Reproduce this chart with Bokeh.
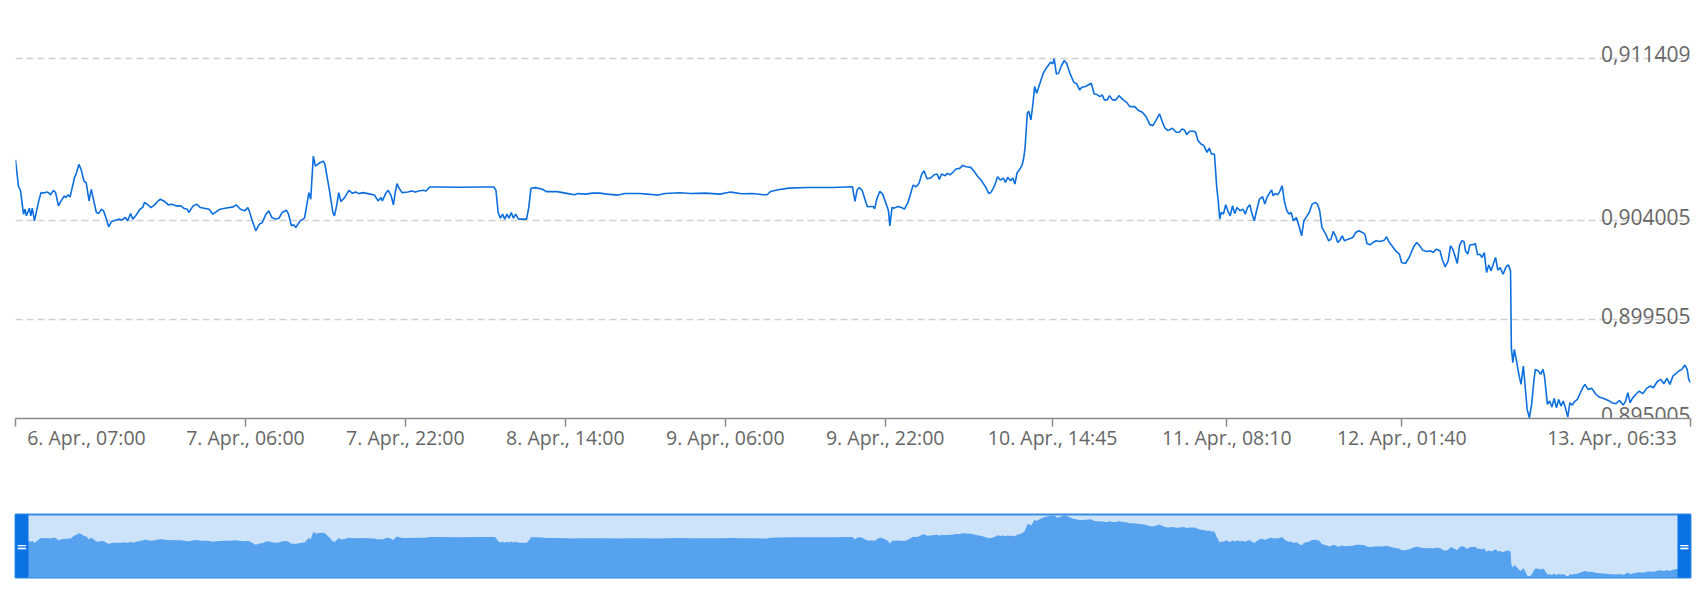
from bokeh.plotting import figure
from bokeh.layouts import column
from bokeh.models import Range1d, FixedTicker, LinearAxis, ColumnDataSource, Grid
from bokeh.core.properties import value
from bokeh.embed import file_html
from bokeh.resources import INLINE

# hours since 6 Apr 07:00
hours = [
    0, 0.29, 0.51, 0.80, 0.95, 1.09, 1.39, 1.53, 1.68, 1.90, 2.11, 2.33, 2.55, 2.84, 3.13, 3.35, 3.50, 3.79,
    4.01, 4.30, 4.52, 4.88, 5.03, 5.25, 5.46, 5.61, 5.90, 6.05, 6.34, 6.56, 6.85, 7.07, 7.36, 7.58, 7.87,
    8.09, 8.30, 8.60, 8.81, 9.10, 9.32, 9.61, 9.98, 10.42, 10.63, 10.99, 11.22, 11.51, 11.73, 12.02, 12.38,
    12.75, 12.89, 13.18, 13.55, 13.91, 14.27, 14.49, 14.93, 15.29, 15.66, 16.10, 16.53, 16.82, 17.19, 17.33,
    17.77, 18.14, 18.50, 18.86, 19.37, 19.74, 20.10, 20.47, 20.97, 21.78, 22.07, 22.50, 22.94, 23.23, 23.38,
    23.67, 24.03, 24.40, 24.69, 25.05, 25.34, 25.64, 26.00, 26.36, 26.66, 27.09, 27.31, 27.60, 27.82, 28.04,
    28.47, 28.91, 29.35, 29.53, 29.79, 30.00, 30.44, 30.80, 30.95, 31.39, 31.75, 31.90, 32.12, 32.33, 32.55,
    32.92, 33.35, 33.72, 34.01, 34.37, 34.74, 35.25, 35.90, 36.27, 36.56, 36.70, 37.07, 37.29, 37.58, 37.80,
    38.01, 38.16, 38.38, 38.67, 39.25, 39.61, 39.98, 40.34, 40.78, 41.07, 41.44, 42.17, 44.35, 46.53, 47.84,
    48.06, 48.28, 48.50, 48.72, 48.94, 49.16, 49.37, 49.59, 49.81, 50.03, 50.32, 51.12, 51.34, 51.56, 52.00,
    52.72, 53.09, 54.18, 55.27,
    55.90, 56.27, 57.00, 57.72, 58.45, 59.18, 60.27, 60.99, 62.45, 63.18, 63.90, 64.27, 64.99, 66.45, 67.54,
    69.00, 70.45, 71.54, 72.63, 73.72, 74.81, 75.18, 75.54, 76.27, 77.36, 79.17, 81.72, 83.72, 83.97, 84.19,
    84.41, 84.70, 85.21, 85.57, 85.79, 85.94, 86.16, 86.45, 86.74, 87.10, 87.32, 87.46, 87.68, 87.90, 88.26,
    88.63, 88.92, 89.28, 89.57, 89.79, 90.08, 90.37, 90.66, 90.88, 91.17, 91.54, 91.90, 92.19, 92.41, 92.63,
    92.99, 93.21, 93.50, 93.79, 94.08, 94.45, 94.74, 95.10, 95.54, 95.90, 96.19, 96.63, 97.06, 97.35, 97.57,
    97.86, 98.08, 98.23, 98.52, 98.81, 99.03, 99.25, 99.54, 99.75, 99.97, 100.19, 100.48, 100.70, 100.85,
    100.99, 101.21, 101.36, 101.57, 101.79, 101.94, 102.15, 102.45, 102.81, 103.17, 103.54, 103.75, 103.90,
    104.12, 104.34, 104.63, 104.92, 105.14, 105.50, 105.86, 106.15, 106.44, 106.66, 107.03, 107.61, 107.90,
    108.19, 108.48, 108.70, 108.92, 109.21, 109.43, 109.72, 110.08, 110.37, 110.81, 111.17, 111.46,
    111.96, 112.34, 112.72, 113.09, 113.47, 113.77, 114.07, 114.44, 114.67, 114.97, 115.27, 115.72, 116.10,
    116.40, 116.70, 116.93, 117.15, 117.45, 117.83, 118.05, 118.28, 118.58, 118.88, 119.18, 119.41, 119.63,
    119.93, 120.16, 120.31, 120.46, 120.61, 120.83, 121.06, 121.29, 121.51, 121.74, 121.96, 122.19, 122.49,
    122.79, 123.02, 123.24, 123.47, 123.69, 123.92, 124.14, 124.44, 124.74, 124.97, 125.19, 125.42, 125.65,
    125.80, 126.02, 126.25, 126.47, 126.70, 126.92, 127.15, 127.38, 127.60, 127.83, 128.13, 128.43, 128.65,
    128.88, 129.10, 129.41, 129.71, 130.01, 130.23, 130.46, 130.68, 131.06, 131.36, 131.59, 131.81, 132.04,
    132.26, 132.49, 132.71, 132.94, 133.31, 133.77, 134.07, 134.37, 134.74, 134.97, 135.19, 135.49, 135.80,
    136.10, 136.47, 136.92, 137.15, 137.37, 137.68, 138.05, 138.43, 138.65, 139.03, 139.40, 139.86, 140.16,
    140.46, 140.76, 141.21, 141.51, 141.81, 142.11, 142.49, 142.71, 143.01, 143.31, 143.54, 143.77, 143.99,
    144.22, 144.44, 144.67, 144.89, 145.04, 145.27, 145.49, 145.79, 146.02, 146.25, 146.47, 146.70, 146.92,
    147.15, 147.37, 147.60, 147.82, 148.05, 148.28, 148.50, 148.80, 149.10, 149.33, 149.55, 149.63, 149.78,
    149.93, 150.15, 150.38, 150.60, 150.83, 150.98, 151.21, 151.43, 151.66, 151.88, 152.03, 152.33, 152.56,
    152.79, 152.94, 153.24, 153.46, 153.69, 153.91, 154.14, 154.37, 154.59, 154.82, 155.04, 155.27, 155.49,
    155.72, 155.94, 156.24, 156.54, 156.77, 156.99, 157.30, 157.67, 158.05, 158.42, 158.87, 159.33, 159.70,
    160.08, 160.45, 160.83, 161.06, 161.28, 161.51, 161.73, 162.03, 162.41, 162.78, 163.16, 163.54, 163.84,
    164.21, 164.59, 164.89, 165.19, 165.49, 165.79, 166.09, 166.39, 166.69, 166.99, 167.22, 167.37, 167.55,
]

rate = [
    0.906786, 0.905591, 0.905364, 0.904307, 0.904534, 0.904232, 0.904579, 0.904232, 0.904579, 0.904005,
    0.904458, 0.904911, 0.905289, 0.905273, 0.905319, 0.905273, 0.905183, 0.905394, 0.905289, 0.904685,
    0.904881, 0.905138, 0.905062, 0.905183, 0.905092, 0.905394, 0.905968, 0.906119, 0.906572, 0.906346,
    0.905817, 0.905742, 0.904911, 0.905440, 0.904836, 0.904383, 0.904337, 0.904534, 0.904458, 0.904081,
    0.903733, 0.903975, 0.904035, 0.904081, 0.904035, 0.904156, 0.904005, 0.904337, 0.904081, 0.904232,
    0.904488, 0.904639, 0.904836, 0.904760, 0.904609, 0.904730, 0.904911, 0.904987, 0.904881, 0.904730,
    0.904760, 0.904685, 0.904685, 0.904579, 0.904534, 0.904383, 0.904685, 0.904760, 0.904609, 0.904579,
    0.904534, 0.904307, 0.904428, 0.904534, 0.904579, 0.904639, 0.904730, 0.904534, 0.904458, 0.904609,
    0.904458, 0.904035, 0.903552, 0.903854, 0.903930, 0.904307, 0.904458, 0.904156, 0.904081, 0.904126,
    0.904383, 0.904488, 0.904307, 0.903779, 0.903824, 0.903703, 0.904005, 0.904126, 0.905289, 0.904987,
    0.906950, 0.906497, 0.906648, 0.906723, 0.906572, 0.905440, 0.904383, 0.904232, 0.904685, 0.905289,
    0.904881, 0.905062, 0.905394, 0.905258, 0.905319, 0.905243, 0.905289, 0.905243, 0.905183, 0.904911,
    0.905062, 0.904911, 0.905289, 0.905394, 0.905138, 0.904730, 0.905364, 0.905696, 0.905485, 0.905289,
    0.905319, 0.905364, 0.905319, 0.905364, 0.905394, 0.905364, 0.905545, 0.905545, 0.905530, 0.905545,
    0.905545, 0.905394, 0.904383, 0.904126, 0.904307, 0.904081, 0.904307, 0.904126, 0.904383, 0.904126,
    0.904307, 0.904081, 0.904081, 0.904609, 0.905485, 0.905515, 0.905440, 0.905334, 0.905334, 0.905243,
    0.905191, 0.905252, 0.905221, 0.905267, 0.905267, 0.905221, 0.905176, 0.905252, 0.905252, 0.905221,
    0.905191, 0.905176, 0.905252, 0.905282, 0.905252, 0.905267, 0.905221, 0.905313, 0.905237, 0.905252,
    0.905191, 0.905191, 0.905343, 0.905419, 0.905495, 0.905525, 0.905525, 0.905556, 0.904887, 0.905404,
    0.905525, 0.905373, 0.904644, 0.904659, 0.904659, 0.904552, 0.904993, 0.905343, 0.905221, 0.904765,
    0.904461, 0.903777, 0.904613, 0.904583, 0.904659, 0.904613, 0.904537, 0.904841, 0.905297, 0.905632,
    0.905556, 0.905708, 0.906134, 0.906286, 0.905921, 0.905951, 0.906103, 0.906134, 0.905890, 0.906134,
    0.906058, 0.906164, 0.906103, 0.906225, 0.906362, 0.906392, 0.906529, 0.906468, 0.906438, 0.906255,
    0.906058, 0.905829, 0.905525, 0.905252, 0.905297, 0.905525, 0.905799, 0.906012, 0.905860, 0.905951,
    0.905753, 0.905982, 0.905829, 0.905951, 0.905677, 0.906194, 0.906362, 0.906559, 0.906863, 0.907350,
    0.908901, 0.908992, 0.908596, 0.909402, 0.910117, 0.909813, 0.910238, 0.910725, 0.910999, 0.911227,
    0.911151, 0.911379, 0.910694, 0.910725, 0.911075, 0.911303, 0.911181, 0.910694, 0.910314, 0.910238,
    0.909965, 0.910086, 0.910117, 0.910269, 0.909782, 0.909752, 0.909661, 0.909737, 0.909509, 0.909509,
    0.909706, 0.909509, 0.909509, 0.909706, 0.909509, 0.909387, 0.909205,
    0.909205, 0.909023, 0.908947, 0.908749, 0.908384, 0.908339, 0.908567, 0.908871, 0.908567, 0.908232,
    0.908111, 0.908217, 0.908035, 0.908035, 0.908187, 0.908141, 0.907928, 0.908080, 0.908080, 0.908035,
    0.907655, 0.907503, 0.907427, 0.907123, 0.907320, 0.907047, 0.907047, 0.905527, 0.904919, 0.904083,
    0.904387, 0.904311, 0.904736, 0.904432, 0.904235, 0.904691, 0.904341, 0.904615, 0.904463, 0.904539,
    0.904311, 0.904615, 0.904736, 0.904311, 0.904007, 0.904463, 0.904995, 0.905101, 0.904767, 0.905071,
    0.905253, 0.905405, 0.905147, 0.905253, 0.905192, 0.905344, 0.905603, 0.904919, 0.904493, 0.904311,
    0.904387, 0.904007, 0.904159, 0.903703, 0.903323, 0.904007, 0.904159, 0.904387, 0.904767, 0.904843,
    0.904767, 0.904463, 0.903703, 0.903399, 0.903095, 0.903171, 0.903520, 0.903323, 0.903019, 0.903125,
    0.903323, 0.903095, 0.903171, 0.903247, 0.903475, 0.903551, 0.903475, 0.903399, 0.902973, 0.902912,
    0.903019, 0.903095, 0.903064, 0.903125, 0.903277, 0.903064, 0.902867, 0.902639, 0.902487, 0.902107,
    0.902061, 0.902335, 0.902821, 0.903019, 0.902867, 0.902669, 0.902608, 0.902639, 0.902563, 0.902715,
    0.902639, 0.902259, 0.901909, 0.902183, 0.902867, 0.902715, 0.902411, 0.902061, 0.902867, 0.903095,
    0.903064, 0.902639, 0.902487, 0.902912, 0.902912, 0.902973, 0.902456, 0.902487, 0.902335, 0.902563,
    0.901651, 0.902000, 0.901727, 0.902031, 0.902335, 0.901757, 0.901879, 0.901575, 0.901909, 0.902000,
    0.901727, 0.898231, 0.897547, 0.898155, 0.897623, 0.897015, 0.896559, 0.897395, 0.896635, 0.895419,
    0.895039, 0.895647, 0.896711, 0.897243, 0.897167, 0.897015, 0.897243, 0.896939, 0.895647, 0.895799,
    0.895525, 0.895920, 0.895495, 0.895875, 0.895571, 0.895799, 0.895495, 0.895069, 0.895723, 0.895616,
    0.895768, 0.895875, 0.896179, 0.896407, 0.896559, 0.896331, 0.896376, 0.896133, 0.895981, 0.895920,
    0.895829, 0.895723, 0.895677, 0.895829, 0.895616, 0.895799, 0.896179, 0.895723, 0.895920, 0.896072,
    0.896255, 0.896133, 0.896376, 0.896483, 0.896407, 0.896680, 0.896787, 0.896589, 0.896832, 0.896559,
    0.896939, 0.897045, 0.897167, 0.897243, 0.897440, 0.897243, 0.896787, 0.896635,
]

# x ticks (hours since 6 Apr 07:00) and their labels
x_tick_hours = [0, 23, 39, 55, 71, 87, 103.75, 121.1667, 138.6667, 167.55]
x_tick_labels = ["6. Apr., 07:00", "7. Apr., 06:00", "7. Apr., 22:00", "8. Apr., 14:00",
                 "9. Apr., 06:00", "9. Apr., 22:00", "10. Apr., 14:45", "11. Apr., 08:10",
                 "12. Apr., 01:40", "13. Apr., 06:33"]
y_ticks = [0.895005, 0.899505, 0.904005, 0.911409]
y_tick_labels = ["0,895005", "0,899505", "0,904005", "0,911409"]

LINE = "#0d6fde"
HANDLE = "#0b72e4"
MASK = "#cce3fa"
NAVFILL = "#56a2ee"
AXIS = "#8a8a8a"
LABEL = "#666666"
FONT = "Open Sans"

x0, x1 = x_tick_hours[0], x_tick_hours[-1]
ymin, ymax = y_ticks[0], y_ticks[-1]
span = ymax - ymin

p = figure(width=1692, height=500, title=None,
           x_range=Range1d(x0, x1), y_range=Range1d(ymin, ymax + span * 0.1046),
           output_backend="svg", toolbar_location=None,
           x_axis_location=None, y_axis_location=None,
           min_border_left=15, min_border_right=2, min_border_top=20, min_border_bottom=82)
p.grid.visible = False
p.outline_line_color = None
p.background_fill_color = "white"
p.border_fill_color = "white"

p.add_layout(Grid(dimension=1, ticker=FixedTicker(ticks=y_ticks),
                  grid_line_color="#d0d0d0", grid_line_width=1.4, grid_line_dash="7 4"))

# axis with line + tick marks
ax_ticks = LinearAxis(ticker=FixedTicker(ticks=x_tick_hours),
                      axis_line_color=AXIS, axis_line_width=1.5,
                      major_tick_line_color=AXIS, major_tick_line_width=1.5,
                      major_tick_out=8, major_tick_in=0, minor_tick_out=0, minor_tick_in=0,
                      major_label_text_font_size="1px", major_label_text_color=None,
                      major_label_standoff=0)
# axis carrying the labels (first / last justified inside the plot)
label_pos = [x_tick_hours[0] + 7.1] + x_tick_hours[1:-1] + [x_tick_hours[-1] - 7.85]
ax_labels = LinearAxis(ticker=FixedTicker(ticks=label_pos),
                       axis_line_color=None, major_tick_line_color=None,
                       major_tick_out=0, major_tick_in=0, minor_tick_out=0, minor_tick_in=0,
                       major_label_standoff=-3,
                       major_label_overrides={pos: lab for pos, lab in zip(label_pos, x_tick_labels)},
                       major_label_text_font=FONT, major_label_text_font_size="19.5px",
                       major_label_text_color=LABEL)
p.add_layout(ax_ticks, "below")
p.add_layout(ax_labels, "below")

ysrc = ColumnDataSource(dict(x=[x1] * len(y_ticks), y=y_ticks, text=y_tick_labels))
p.text(x="x", y="y", text="text", source=ysrc, text_align="right", text_baseline="alphabetic",
       y_offset=-4, text_font=value(FONT), text_font_size="21px", text_color=LABEL)

p.line(hours, rate, line_color=LINE, line_width=1.6)

# navigator
nav_lo = ymin - span * 0.008
nav_hi = ymax + span * 0.0064
nav = figure(width=1692, height=97, title=None,
             x_range=Range1d(x0, x1), y_range=Range1d(nav_lo, nav_hi),
             output_backend="svg", toolbar_location=None,
             x_axis_location=None, y_axis_location=None,
             min_border_left=14, min_border_right=2, min_border_top=14, min_border_bottom=20)
nav.grid.visible = False
nav.background_fill_color = MASK
nav.border_fill_color = "white"
nav.outline_line_color = "#3a8de0"
nav.outline_line_width = 2

nav.varea(x=hours, y1=[nav_lo] * len(hours), y2=rate, fill_color=NAVFILL)

hw = 1.25  # handle width in hours (~12 px)
nav.quad(left=[x0, x1 - hw], right=[x0 + hw, x1], bottom=[nav_lo] * 2, top=[nav_hi] * 2,
         fill_color=HANDLE, line_color=HANDLE)
mid = (nav_lo + nav_hi) / 2
nav.text(x=[x0 + hw / 2, x1 - hw / 2], y=[mid, mid], text=["=", "="], text_align="center",
         text_baseline="middle", text_color="white", text_font=value("DejaVu Sans"),
         text_font_size="13px", text_font_style="bold")

layout = column(p, nav, spacing=0)
open("out.html", "w").write(file_html(layout, INLINE))
